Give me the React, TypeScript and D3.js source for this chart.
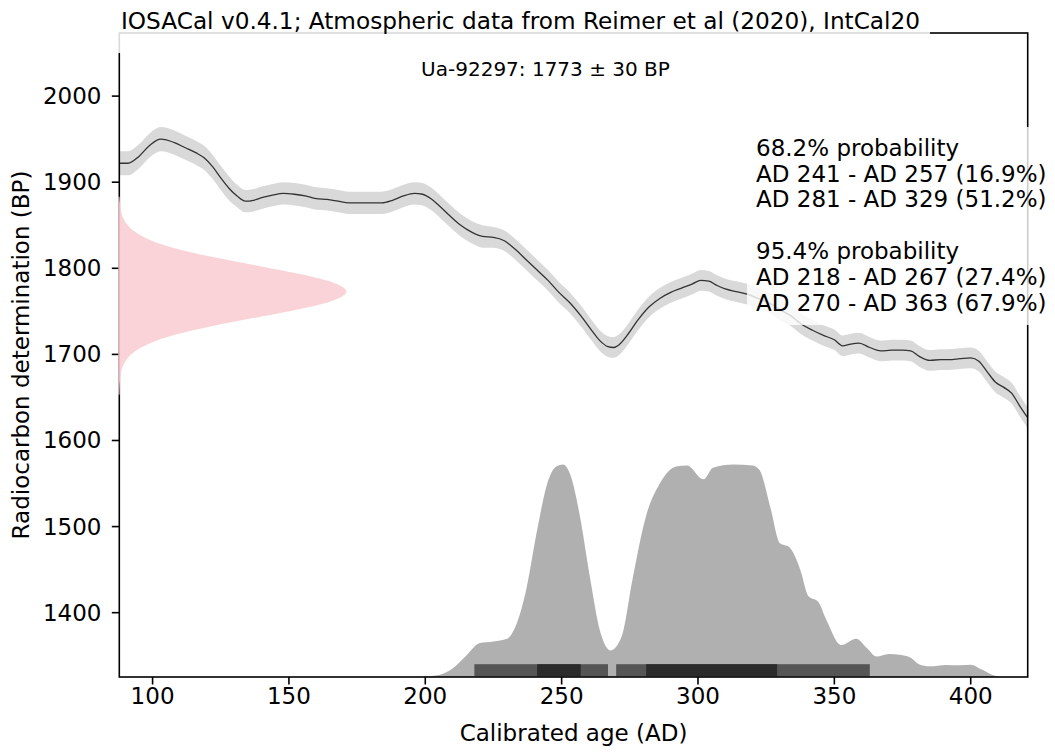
import * as d3 from "d3";

// IntCal20 calibration curve (age AD, BP, 1 sigma)
const curveAge = [88, 91, 95, 99, 103, 108, 112, 116, 119, 122, 125, 128, 131, 134, 137, 140, 144, 148, 152, 156, 160, 164, 168, 172, 176, 180, 184, 188, 192, 196, 199, 202, 205, 209, 213, 217, 221, 225, 229, 233, 237, 241, 245, 249, 253, 257, 261, 264, 267, 269, 271, 274, 278, 282, 286, 290, 294, 298, 301, 304, 307, 310, 314, 318, 322, 326, 330, 334, 338, 342, 346, 350, 353, 356, 359, 363, 367, 371, 375, 378, 381, 385, 389, 392, 396, 400, 403, 406, 409, 412, 415, 418, 421];
const curveBP = [1922, 1922, 1930, 1943, 1950, 1946, 1940, 1934, 1928, 1918, 1905, 1893, 1884, 1878, 1879, 1882, 1885, 1887, 1886, 1884, 1881, 1880, 1878, 1876, 1876, 1876, 1876, 1879, 1884, 1887, 1886, 1881, 1873, 1861, 1850, 1842, 1837, 1836, 1832, 1822, 1810, 1798, 1786, 1772, 1760, 1745, 1728, 1716, 1709, 1708, 1711, 1722, 1740, 1755, 1765, 1772, 1777, 1782, 1786, 1785, 1780, 1776, 1773, 1770, 1765, 1760, 1752, 1745, 1735, 1728, 1722, 1717, 1710, 1712, 1713, 1708, 1704, 1705, 1705, 1704, 1698, 1693, 1694, 1694, 1695, 1696, 1692, 1680, 1668, 1662, 1655, 1640, 1626];
const curveSigma = [14, 14, 14, 14, 14, 14, 14, 14, 14, 14, 14, 14, 13, 13, 13, 13, 13, 13, 13, 13, 13, 13, 13, 13, 13, 13, 13, 13, 13, 13, 13, 13, 13, 13, 13, 13, 13, 12, 12, 12, 12, 12, 12, 12, 12, 12, 12, 12, 12, 12, 12, 12, 12, 12, 12, 12, 12, 12, 12, 12, 12, 12, 12, 12, 12, 12, 12, 12, 12, 12, 12, 12, 12, 12, 12, 12, 12, 12, 12, 12, 12, 12, 12, 12, 12, 12, 12, 12, 12, 12, 12, 12, 12];

// radiocarbon date (pink), relative density by BP
const pinkBP = [1653, 1663, 1673, 1683, 1693, 1703, 1713, 1723, 1733, 1743, 1753, 1763, 1773, 1783, 1793, 1803, 1813, 1823, 1833, 1843, 1853, 1863, 1873, 1883];
const pinkDens = [0.001, 0.002, 0.004, 0.011, 0.029, 0.066, 0.135, 0.249, 0.411, 0.607, 0.801, 0.946, 1, 0.946, 0.801, 0.607, 0.411, 0.249, 0.135, 0.066, 0.029, 0.011, 0.004, 0.001];

// calibrated probability (gray), relative density by age AD
const calAge = [195, 205, 210, 215, 220, 225, 230, 233.5, 237, 241, 244.5, 248, 250.5, 253.5, 256.5, 260.5, 264, 268, 272, 276, 281, 286, 292, 296, 302, 305.5, 313, 320, 322.5, 326.5, 330, 333.5, 337.5, 340.5, 344, 347, 352.5, 358, 362, 365.5, 370, 374, 378, 381, 385, 391, 396, 400, 404, 408, 412];
const calDens = [0, 0.01, 0.04, 0.1, 0.16, 0.167, 0.18, 0.25, 0.41, 0.69, 0.9, 0.99, 1, 0.94, 0.77, 0.46, 0.22, 0.125, 0.19, 0.46, 0.76, 0.91, 0.99, 0.995, 0.93, 0.985, 1, 0.995, 0.975, 0.8, 0.63, 0.61, 0.505, 0.38, 0.355, 0.27, 0.15, 0.18, 0.135, 0.096, 0.108, 0.105, 0.09, 0.06, 0.05, 0.057, 0.055, 0.058, 0.035, 0.01, 0];

const hpd68 = [[241, 257], [281, 329]];
const hpd68Pct = [16.9, 51.2];
const hpd95 = [[218, 267], [270, 363]];
const hpd95Pct = [27.4, 67.9];

const xTicks = [100, 150, 200, 250, 300, 350, 400];
const yTicks = [1400, 1500, 1600, 1700, 1800, 1900, 2000];

const titleText = "IOSACal v0.4.1; Atmospheric data from Reimer et al (2020), IntCal20";
const dateText = "Ua-92297: 1773 ± 30 BP";

const W = 1055;
const H = 752;
const left = 119.3, right = 1027.7, top = 33, bottom = 677;
const FONT = "DejaVu Sans, Verdana, sans-serif";

export default function App() {
  const x = d3.scaleLinear().domain([87.8, 420.9]).range([left, right]);
  const y = d3.scaleLinear().domain([1325.3, 2073.3]).range([bottom, top]);

  const curveIdx = d3.range(curveAge.length);
  const band = d3.area<number>()
    .x((i) => x(curveAge[i]))
    .y0((i) => y(curveBP[i] - curveSigma[i]))
    .y1((i) => y(curveBP[i] + curveSigma[i]))
    .curve(d3.curveMonotoneX)(curveIdx);
  const line = d3.line<number>()
    .x((i) => x(curveAge[i]))
    .y((i) => y(curveBP[i]))
    .curve(d3.curveMonotoneX)(curveIdx);

  const calHeight = (bottom - top) * 0.33;
  const cal = d3.area<number>()
    .x((i) => x(calAge[i]))
    .y0(bottom)
    .y1((i) => bottom - calDens[i] * calHeight)
    .curve(d3.curveMonotoneX)(d3.range(calAge.length));

  const pinkWidth = (right - left) * 0.25;
  const pink = d3.area<number>()
    .y((i) => y(pinkBP[i]))
    .x0(left - 1)
    .x1((i) => left + pinkDens[i] * pinkWidth)
    .curve(d3.curveMonotoneY)(d3.range(pinkBP.length));

  const barH = 12;
  const barY = bottom - 0.8 - barH;

  const legendLines = [
    "68.2% probability",
    ...hpd68.map((r, i) => `AD ${r[0]} - AD ${r[1]} (${hpd68Pct[i].toFixed(1)}%)`),
    "",
    "95.4% probability",
    ...hpd95.map((r, i) => `AD ${r[0]} - AD ${r[1]} (${hpd95Pct[i].toFixed(1)}%)`),
  ];

  return (
    <div style={{ position: "absolute", left: 0, top: 0 }}>
      <svg width={W} height={H} viewBox={`0 0 ${W} ${H}`} style={{ display: "block", background: "#fff" }}>
        <defs>
          <clipPath id="plot">
            <rect x={left} y={top} width={right - left} height={bottom - top} />
          </clipPath>
        </defs>
        <g clipPath="url(#plot)">
          <path d={band ?? ""} fill="#d9d9d9" />
          <path d={line ?? ""} fill="none" stroke="#333" strokeWidth={1.3} />
          <path d={cal ?? ""} fill="#b0b0b0" />
          {hpd95.map((r, i) => (
            <rect key={"b95" + i} x={x(r[0])} y={barY} width={x(r[1]) - x(r[0])} height={barH} fill="#555" />
          ))}
          {hpd68.map((r, i) => (
            <rect key={"b68" + i} x={x(r[0])} y={barY} width={x(r[1]) - x(r[0])} height={barH} fill="#2b2b2b" />
          ))}
        </g>

        {/* spines */}
        <rect x={left} y={top} width={right - left} height={bottom - top} fill="none" stroke="#000" strokeWidth={1.6} />

        {/* ticks */}
        {xTicks.map((t) => (
          <g key={"xt" + t}>
            <line x1={x(t)} x2={x(t)} y1={bottom} y2={bottom + 7.5} stroke="#000" strokeWidth={1.6} />
            <text x={x(t)} y={704} textAnchor="middle" fontFamily={FONT} fontSize={23} fill="#000">{t}</text>
          </g>
        ))}
        {yTicks.map((t) => (
          <g key={"yt" + t}>
            <line x1={left - 7.5} x2={left} y1={y(t)} y2={y(t)} stroke="#000" strokeWidth={1.6} />
            <text x={101.5} y={y(t) + 8} textAnchor="end" fontFamily={FONT} fontSize={23} fill="#000">{t}</text>
          </g>
        ))}

        <path d={pink ?? ""} fill="#f9ced4" fillOpacity={0.9} />

        <text x={(left + right) / 2} y={741} textAnchor="middle" fontFamily={FONT} fontSize={23} fill="#000">Calibrated age (AD)</text>
        <text transform={`translate(29, ${(top + bottom) / 2}) rotate(-90)`} textAnchor="middle" fontFamily={FONT} fontSize={23} fill="#000">Radiocarbon determination (BP)</text>

        {/* legend box */}
        <rect x={747} y={127} width={W - 747} height={198} fill="#fff" fillOpacity={0.8} />
        {legendLines.map((s, i) => (
          <text key={"lg" + i} x={756} y={155.7 + i * 25.8} fontFamily={FONT} fontSize={23} fill="#000">{s}</text>
        ))}

        {/* title */}
        <rect x={112} y={0} width={930 - 112} height={53} fill="#fff" fillOpacity={0.85} />
        <text x={121} y={29} fontFamily={FONT} fontSize={23.2} fill="#000">{titleText}</text>
        <text x={545.5} y={76} textAnchor="middle" fontFamily={FONT} fontSize={20} fill="#000">{dateText}</text>
      </svg>
    </div>
  );
}
